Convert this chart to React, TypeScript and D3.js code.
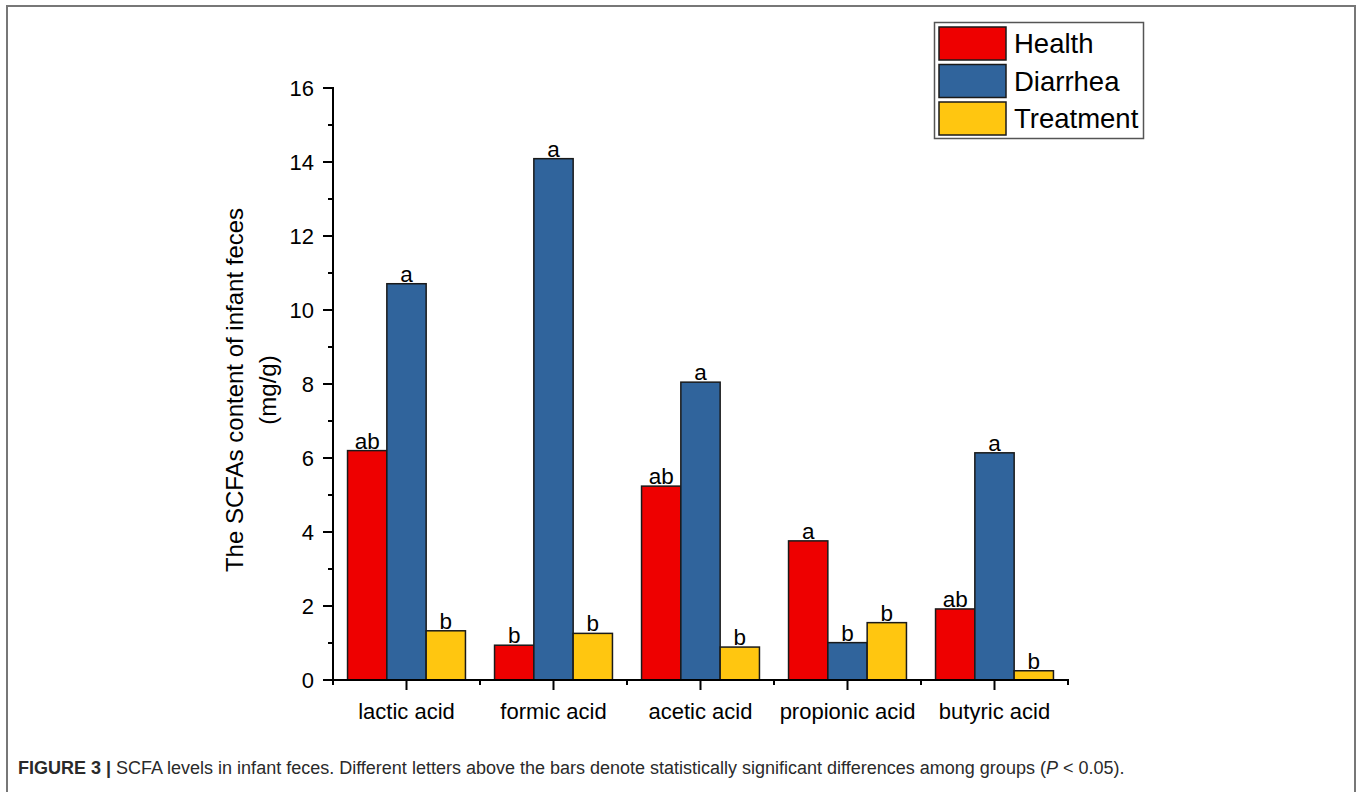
import React from "react";
import * as d3 from "d3";

const categories = ["lactic acid", "formic acid", "acetic acid", "propionic acid", "butyric acid"];
const groups = ["Health", "Diarrhea", "Treatment"];
const healthValues = [6.2, 0.94, 5.24, 3.76, 1.92];
const diarrheaValues = [10.71, 14.09, 8.05, 1.01, 6.14];
const treatmentValues = [1.33, 1.26, 0.89, 1.55, 0.25];
const healthLetters = ["ab", "b", "ab", "a", "ab"];
const diarrheaLetters = ["a", "a", "a", "b", "a"];
const treatmentLetters = ["b", "b", "b", "b", "b"];
const yTicks = [0, 2, 4, 6, 8, 10, 12, 14, 16];
const yMinorTicks = [1, 3, 5, 7, 9, 11, 13, 15];
const colors = ["#EE0000", "#30649C", "#FFC610"];

const W = 1357;
const H = 792;
const FONT = "Arial, 'Liberation Sans', sans-serif";

export default function App() {
  const x0 = 333;
  const x1 = 1068;
  const yTop = 88;
  const yBottom = 680;

  const y = d3.scaleLinear().domain([0, 16]).range([yBottom, yTop]);
  const xCat = d3.scaleBand<string>().domain(categories).range([x0, x1]).paddingInner(0).paddingOuter(0);
  const xGroup = d3
    .scaleBand<string>()
    .domain(groups)
    .range([0, xCat.bandwidth()])
    .paddingInner(0)
    .paddingOuter(0.37);

  const series = [
    { name: groups[0], values: healthValues, letters: healthLetters, color: colors[0] },
    { name: groups[1], values: diarrheaValues, letters: diarrheaLetters, color: colors[1] },
    { name: groups[2], values: treatmentValues, letters: treatmentLetters, color: colors[2] },
  ];

  const boundaries = d3.range(categories.length + 1).map((i) => x0 + i * xCat.step());

  return (
    <svg width={W} height={H} style={{ position: "absolute", left: 0, top: 0, background: "#fff" }}>
      <rect x={0} y={0} width={W} height={H} fill="#fff" />
      {/* outer frame */}
      <path d={`M7,${H + 2} V6 H1355 V${H + 2}`} fill="none" stroke="#777" strokeWidth={2} />

      {/* bars */}
      {series.map((s) =>
        categories.map((c, i) => {
          const bx = (xCat(c) ?? 0) + (xGroup(s.name) ?? 0);
          const bw = xGroup.bandwidth();
          const top = y(s.values[i]);
          return (
            <g key={s.name + c}>
              <rect x={bx} y={top} width={bw} height={yBottom - top} fill={s.color} stroke="#1a1a1a" strokeWidth={1.5} />
              <text x={bx + bw / 2} y={top - 2} textAnchor="middle" fontFamily={FONT} fontSize={22.5} fill="#000">
                {s.letters[i]}
              </text>
            </g>
          );
        })
      )}

      {/* y axis */}
      <line x1={x0} x2={x0} y1={yTop - 1} y2={yBottom + 1} stroke="#000" strokeWidth={2} />
      {yTicks.map((t) => (
        <g key={"yt" + t}>
          <line x1={x0 - 10} x2={x0} y1={y(t)} y2={y(t)} stroke="#000" strokeWidth={2} />
          <text x={x0 - 19} y={y(t)} dy="0.36em" textAnchor="end" fontFamily={FONT} fontSize={22} fill="#000">
            {t}
          </text>
        </g>
      ))}
      {yMinorTicks.map((t) => (
        <line key={"ym" + t} x1={x0 - 5} x2={x0} y1={y(t)} y2={y(t)} stroke="#000" strokeWidth={2} />
      ))}

      {/* x axis */}
      <line x1={x0 - 1} x2={x1 + 1} y1={yBottom} y2={yBottom} stroke="#000" strokeWidth={2} />
      {boundaries.map((b, i) => (
        <line key={"xb" + i} x1={b} x2={b} y1={yBottom} y2={yBottom + 5} stroke="#000" strokeWidth={2} />
      ))}
      {categories.map((c) => {
        const cx = (xCat(c) ?? 0) + xCat.bandwidth() / 2;
        return (
          <g key={"xc" + c}>
            <line x1={cx} x2={cx} y1={yBottom} y2={yBottom + 10} stroke="#000" strokeWidth={2} />
            <text x={cx} y={yBottom + 39} textAnchor="middle" fontFamily={FONT} fontSize={22} fill="#000">
              {c}
            </text>
          </g>
        );
      })}

      {/* y axis title */}
      <g transform="translate(0,390)">
        <text transform="translate(243,0) rotate(-90)" textAnchor="middle" fontFamily={FONT} fontSize={24} fill="#000">
          The SCFAs content of infant feces
        </text>
        <text transform="translate(276,0) rotate(-90)" textAnchor="middle" fontFamily={FONT} fontSize={24} fill="#000">
          (mg/g)
        </text>
      </g>

      {/* legend */}
      <rect x={934.5} y={22.5} width={209} height={116} fill="#fff" stroke="#555" strokeWidth={1.5} />
      {series.map((s, i) => (
        <g key={"lg" + s.name}>
          <rect x={939} y={27 + i * 37.5} width={67} height={33} fill={s.color} stroke="#1a1a1a" strokeWidth={1.5} />
          <text x={1014} y={27 + i * 37.5 + 16.5} dy="0.36em" fontFamily={FONT} fontSize={27.5} fill="#000">
            {s.name}
          </text>
        </g>
      ))}

      {/* caption */}
      <text x={18} y={774} fontFamily={FONT} fontSize={18} fill="#2a2a2a">
        <tspan fontWeight="bold">FIGURE 3 | </tspan>
        <tspan>SCFA levels in infant feces. Different letters above the bars denote statistically significant differences among groups (</tspan>
        <tspan fontStyle="italic">P</tspan>
        <tspan> &lt; 0.05).</tspan>
      </text>
    </svg>
  );
}
